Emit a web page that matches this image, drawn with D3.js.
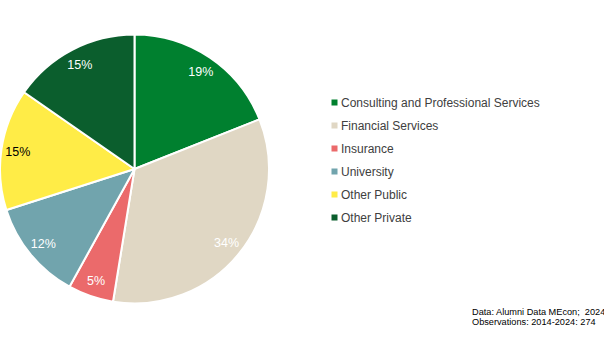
<!DOCTYPE html>
<html><head><meta charset="utf-8">
<script src="https://cdn.jsdelivr.net/npm/d3@7"></script>
<style>body{margin:0;background:#fff;}svg{display:block;font-family:"Liberation Sans",Arial,sans-serif;}</style>
</head><body>
<svg id="c" width="604" height="340"></svg>
<script>
const categories = ["Consulting and Professional Services","Financial Services","Insurance","University","Other Public","Other Private"];
const counts = [52, 92, 15, 33, 40, 42];
const colors = ["#00802f","#e0d7c4","#eb6a6b","#71a4ad","#ffec47","#0b5e2d"];
const labelColors = ["#fff","#fff","#fff","#fff","#000","#fff"];
const footnotes = ["Data: Alumni Data MEcon;  2024","Observations: 2014-2024: 274"];

const svg = d3.select("#c");
const cx = 134.5, cy = 169, r = 134.5;
const total = d3.sum(counts);
const data = categories.map((c,i)=>({cat:c, v:counts[i], i}));
const pie = d3.pie().value(d=>d.v).sort(null);
const arcs = pie(data);
const arc = d3.arc().innerRadius(0).outerRadius(r);
const labelArc = d3.arc().innerRadius(118).outerRadius(118);
const g = svg.append("g").attr("transform",`translate(${cx},${cy})`);
g.selectAll("path").data(arcs).join("path")
  .attr("d",arc).attr("fill",d=>colors[d.data.i])
  .attr("stroke","#fff").attr("stroke-width",2).attr("stroke-linejoin","round");
g.selectAll("text").data(arcs).join("text")
  .attr("transform",d=>`translate(${labelArc.centroid(d)})`)
  .attr("text-anchor","middle").attr("dy","0.35em")
  .attr("font-size",12.5).attr("fill",d=>labelColors[d.data.i])
  .text(d=>Math.round(d.data.v/total*100)+"%");

const y = d3.scalePoint().domain(categories).range([102.5,217.5]);
const lg = svg.append("g");
lg.selectAll("rect").data(categories).join("rect")
  .attr("x",331.5).attr("y",d=>y(d)-3).attr("width",6).attr("height",6)
  .attr("fill",(d,i)=>colors[i]);
lg.selectAll("text").data(categories).join("text")
  .attr("x",341).attr("y",d=>y(d)).attr("dy","0.35em")
  .attr("font-size",12).attr("fill","#404040").text(d=>d);

svg.append("g").selectAll("text").data(footnotes).join("text")
  .attr("x",472).attr("y",(d,i)=>315+i*9.5)
  .style("white-space","pre")
  .attr("font-size",9.2).attr("fill","#000").text(d=>d);
</script>
</body></html>
